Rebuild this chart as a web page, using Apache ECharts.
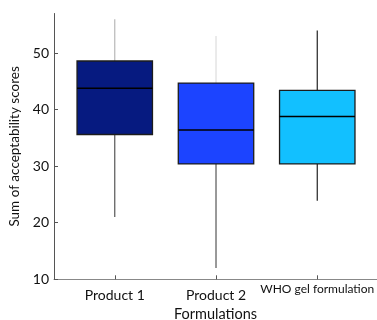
<!DOCTYPE html>
<html><head><meta charset="utf-8">
<script src="https://cdn.jsdelivr.net/npm/echarts@6/dist/echarts.min.js"></script>
<style>html,body{margin:0;padding:0;background:#fff}#c{width:377px;height:320px}</style>
</head><body><div id="c"></div>
<script>
var categories = ['Product 1', 'Product 2', 'WHO gel formulation'];
var whiskerLow = [21.0, 12.0, 23.9];
var q1 = [35.6, 30.4, 30.4];
var median = [43.8, 36.4, 38.8];
var q3 = [48.6, 44.7, 43.4];
var whiskerHigh = [56.0, 53.0, 54.0];
var yTicks = [10, 20, 30, 40, 50];

var boxColors = ['#061a80', '#1c44ff', '#12c0ff'];
var upperWhiskerColors = ['#b8b8b8', '#dddddd', '#222222'];
var lowerWhiskerColors = ['#555555', '#555555', '#222222'];

var data = categories.map(function (c, i) {
  return [i, whiskerLow[i], q1[i], median[i], q3[i], whiskerHigh[i]];
});

var chart = echarts.init(document.getElementById('c'));
var font = 'Lato';
chart.setOption({
  animation: false,
  grid: { left: 54, right: 0, top: 13.5, bottom: 40.7, outerBoundsMode: 'none', containLabel: false },
  xAxis: {
    type: 'value', min: -0.6, max: 2.59,
    splitLine: { show: false },
    axisLine: { show: true, onZero: false, lineStyle: { color: '#888', width: 1 } },
    axisTick: { show: true, inside: true, length: 4, customValues: [0, 1, 2], lineStyle: { color: '#555' } },
    axisLabel: {
      customValues: [0, 1, 2], margin: 3,
      fontFamily: font, fontSize: 14, color: '#111',
      formatter: function (v) {
        var i = Math.round(v);
        return i === 2 ? '{s|' + categories[i] + '}' : '{p|' + categories[i] + '}';
      },
      rich: {
        s: { fontSize: 12, lineHeight: 14, fontFamily: font, color: '#111' },
        p: { fontSize: 14, lineHeight: 26, fontFamily: font, color: '#111' }
      }
    },
    name: 'Formulations', nameLocation: 'middle', nameGap: 27,
    nameTextStyle: { fontFamily: font, fontSize: 14.5, color: '#111' }
  },
  yAxis: {
    type: 'value', min: 10, max: 57, interval: 10,
    splitLine: { show: false },
    axisLine: { show: true, onZero: false, lineStyle: { color: '#555', width: 1 } },
    axisTick: { show: true, inside: true, length: 4, customValues: yTicks, lineStyle: { color: '#555' } },
    axisLabel: { customValues: yTicks, margin: 5, fontFamily: font, fontSize: 14, color: '#111' },
    name: 'Sum of acceptability scores', nameLocation: 'middle', nameGap: 22,
    nameTextStyle: { fontFamily: font, fontSize: 13.5, color: '#111' }
  },
  series: [{
    type: 'custom',
    data: data,
    encode: { x: 0, y: [1, 2, 3, 4, 5] },
    renderItem: function (params, api) {
      var i = api.value(0);
      var idx = params.dataIndex;
      var pLow = api.coord([i, api.value(1)]);
      var pQ1 = api.coord([i, api.value(2)]);
      var pMed = api.coord([i, api.value(3)]);
      var pQ3 = api.coord([i, api.value(4)]);
      var pHigh = api.coord([i, api.value(5)]);
      var w = api.size([0.745, 0])[0];
      var x = pMed[0];
      return {
        type: 'group',
        children: [
          { type: 'line', shape: { x1: x, y1: pHigh[1], x2: x, y2: pQ3[1] },
            style: { stroke: upperWhiskerColors[idx], lineWidth: 1.2 } },
          { type: 'line', shape: { x1: x, y1: pQ1[1], x2: x, y2: pLow[1] },
            style: { stroke: lowerWhiskerColors[idx], lineWidth: 1.2 } },
          { type: 'rect', shape: { x: x - w / 2, y: pQ3[1], width: w, height: pQ1[1] - pQ3[1] },
            style: { fill: boxColors[idx], stroke: '#1c1c1c', lineWidth: 1.3 } },
          { type: 'line', shape: { x1: x - w / 2, y1: pMed[1], x2: x + w / 2, y2: pMed[1] },
            style: { stroke: '#000', lineWidth: 1.5 } }
        ]
      };
    }
  }]
});
</script></body></html>
